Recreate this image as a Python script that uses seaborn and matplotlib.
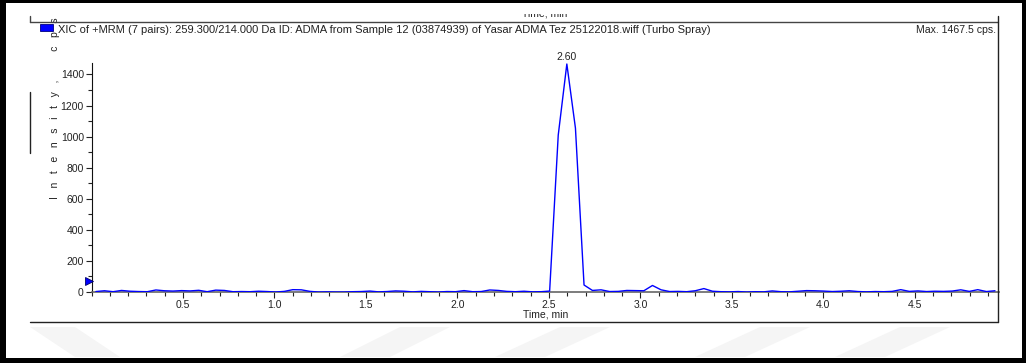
import matplotlib
matplotlib.use("Agg")
import matplotlib.pyplot as plt
import seaborn as sns
import pandas as pd
from matplotlib.lines import Line2D
from matplotlib.patches import Rectangle, Polygon

# ---------------- data ----------------
time_min = [
    0.024, 0.071, 0.118, 0.164, 0.211, 0.258, 0.305, 0.352, 0.398, 0.445,
    0.492, 0.539, 0.586, 0.632, 0.679, 0.726, 0.773, 0.820, 0.866, 0.913,
    0.960, 1.007, 1.054, 1.100, 1.147, 1.194, 1.241, 1.288, 1.334, 1.381,
    1.428, 1.475, 1.522, 1.568, 1.615, 1.662, 1.709, 1.756, 1.802, 1.849,
    1.896, 1.943, 1.990, 2.036, 2.083, 2.130, 2.177, 2.224, 2.270, 2.317,
    2.364, 2.411, 2.458, 2.504, 2.551, 2.598, 2.645, 2.692, 2.738, 2.785,
    2.832, 2.879, 2.926, 2.972, 3.019, 3.066, 3.113, 3.160, 3.206, 3.253,
    3.300, 3.347, 3.394, 3.440, 3.487, 3.534, 3.581, 3.628, 3.674, 3.721,
    3.768, 3.815, 3.862, 3.908, 3.955, 4.002, 4.049, 4.096, 4.142, 4.189,
    4.236, 4.283, 4.330, 4.376, 4.423, 4.470, 4.517, 4.564, 4.610, 4.657,
    4.704, 4.751, 4.798, 4.844, 4.891, 4.938,
]
intensity_cps = [
    3, 8, 2, 10, 5, 3, 2, 13, 8, 6,
    9, 7, 11, 2, 12, 10, 2, 3, 2, 5,
    3, 0, 4, 15, 14, 4, 0, 1, 0, 0,
    2, 3, 6, 1, 3, 7, 5, 1, 4, 2,
    0, 3, 2, 9, 2, 3, 13, 10, 4, 2,
    5, 1, 2, 6, 1010, 1467.5, 1055, 45, 10, 14,
    3, 4, 10, 9, 8, 42, 14, 3, 4, 2,
    8, 22, 5, 2, 1, 3, 0, 2, 1, 7,
    2, 1, 5, 9, 8, 6, 3, 5, 8, 3,
    1, 3, 2, 4, 15, 4, 7, 3, 5, 4,
    6, 14, 4, 15, 3, 8,
]
x_ticks = [0.5, 1.0, 1.5, 2.0, 2.5, 3.0, 3.5, 4.0, 4.5]
x_tick_labels = ["0.5", "1.0", "1.5", "2.0", "2.5", "3.0", "3.5", "4.0", "4.5"]
y_ticks = [0, 200, 400, 600, 800, 1000, 1200, 1400]
y_tick_labels = ["0", "200", "400", "600", "800", "1000", "1200", "1400"]
peak_time = 2.598
peak_value = 1467.5
peak_label = "2.60"
threshold_value = 70
title_text = ("XIC of +MRM (7 pairs): 259.300/214.000 Da ID: ADMA from Sample 12 "
              "(03874939) of Yasar ADMA Tez 25122018.wiff (Turbo Spray)")
max_text = "Max. 1467.5 cps."
x_label = "Time, min"
y_label = "I   n   t   e   n   s   i   t   y   ,          c   p   s"

# ---------------- style ----------------
sns.set_theme(style="white")
plt.rcParams['font.family'] = ['Liberation Sans', 'DejaVu Sans']

W, H = 1026, 363
fig = plt.figure(figsize=(W / 100, H / 100), dpi=100)
fig.patch.set_facecolor("white")


def fx(x):
    return x / W


def fy(y):
    return 1 - y / H


# faint watermark bands at the bottom
wm = "#f5f5f5"
for (x0, x1, x2, x3) in [(30, 75, 120, 75), (400, 450, 390, 340), (560, 610, 545, 495),
                         (760, 810, 745, 695), (900, 950, 885, 835)]:
    fig.patches.append(Polygon([(fx(x0), fy(327)), (fx(x1), fy(327)),
                                (fx(x2), fy(357)), (fx(x3), fy(357))],
                               closed=True, transform=fig.transFigure,
                               facecolor=wm, edgecolor="none", zorder=0))

ax = fig.add_axes([fx(91.5), fy(292), fx(999) - fx(91.5), fy(63) - fy(292)])
ax.set_facecolor("none")

df = pd.DataFrame({"Time, min": time_min, "Intensity": intensity_cps})
sns.lineplot(data=df, x="Time, min", y="Intensity", ax=ax, color="#0000ff",
             linewidth=1.0, zorder=3)

ax.set_xlim(0, 4.96)
ax.set_ylim(0, 1474)
ax.set_xticks(x_ticks)
ax.set_xticklabels(x_tick_labels)
ax.set_yticks(y_ticks)
ax.set_yticklabels(y_tick_labels)
ax.xaxis.set_minor_locator(matplotlib.ticker.MultipleLocator(0.1))
ax.yaxis.set_minor_locator(matplotlib.ticker.MultipleLocator(100))
ax.tick_params(axis="both", which="major", direction="out", length=4, width=0.8,
               labelsize=7.5, colors="#222222", pad=1.5)
ax.tick_params(axis="both", which="minor", direction="out", length=3, width=0.8,
               colors="#222222")
ax.tick_params(axis="x", which="both", bottom=True)
ax.tick_params(axis="y", which="both", left=True)

for side in ["top", "right"]:
    ax.spines[side].set_visible(False)
ax.spines["left"].set_color("#111111")
ax.spines["left"].set_linewidth(0.8)
ax.spines["bottom"].set_color("#666666")
ax.spines["bottom"].set_linewidth(1.2)

ax.set_xlabel(x_label, fontsize=7.5, color="#222222")
ax.xaxis.set_label_coords(0.5, -0.075)
ax.set_ylabel(y_label, fontsize=7.5, color="#222222")
ax.yaxis.label.set_rotation_mode("anchor")
ax.yaxis.label.set_verticalalignment("center")
ax.yaxis.label.set_horizontalalignment("center")
ax.yaxis.set_label_coords((55.5 - 91.5) / 907.5, (292 - 108) / 229)

ax.annotate(peak_label, xy=(peak_time, peak_value), xytext=(0, 1.5),
            textcoords="offset points", ha="center", va="bottom",
            fontsize=7.5, color="#222222", annotation_clip=False)

# threshold marker at left
ax.plot([-0.013], [threshold_value], marker=">", markersize=6, color="#0000ff",
        markeredgecolor="#000066", markeredgewidth=0.6, clip_on=False, zorder=5,
        linestyle="none")

# ---------------- frame / header ----------------
lc = "#444444"
fig.add_artist(Line2D([fx(30), fx(998)], [fy(22), fy(22)], color=lc, lw=1.0))
fig.add_artist(Line2D([fx(30), fx(30)], [fy(16), fy(22)], color=lc, lw=1.0))
fig.add_artist(Line2D([fx(998), fx(998)], [fy(16), fy(322)], color="#222222", lw=1.0))
fig.add_artist(Line2D([fx(30), fx(998)], [fy(322), fy(322)], color="#222222", lw=1.0))
fig.add_artist(Line2D([fx(30), fx(30)], [fy(92), fy(153)], color="#222222", lw=1.0))

fig.add_artist(Rectangle((fx(40), fy(31)), fx(53) - fx(40), fy(24) - fy(31),
                         transform=fig.transFigure, facecolor="#0000ff",
                         edgecolor="#000080", lw=0.6))
fig.text(fx(58), fy(30), title_text, ha="left", va="center", fontsize=8.05,
         color="#222222")
fig.text(fx(996), fy(30), max_text, ha="right", va="center", fontsize=7.6,
         color="#222222")

# clipped duplicate axis title at the very top
fig.text(fx(545), fy(13), x_label, ha="center", va="center", fontsize=7.5,
         color="#222222")
fig.add_artist(Rectangle((0, fy(14)), 1, fy(2) - fy(14), transform=fig.transFigure,
                         facecolor="white", edgecolor="none", zorder=10))

# outer black border
for (x0, y0, x1, y1) in [(0, 0, W, 3), (0, 0, 6, H), (0, H - 5, W, H), (W - 4, 0, W, H)]:
    fig.add_artist(Rectangle((fx(x0), fy(y1)), fx(x1) - fx(x0), fy(y0) - fy(y1),
                             transform=fig.transFigure, facecolor="black",
                             edgecolor="none", zorder=11))

fig.savefig("out.png", dpi=100)
